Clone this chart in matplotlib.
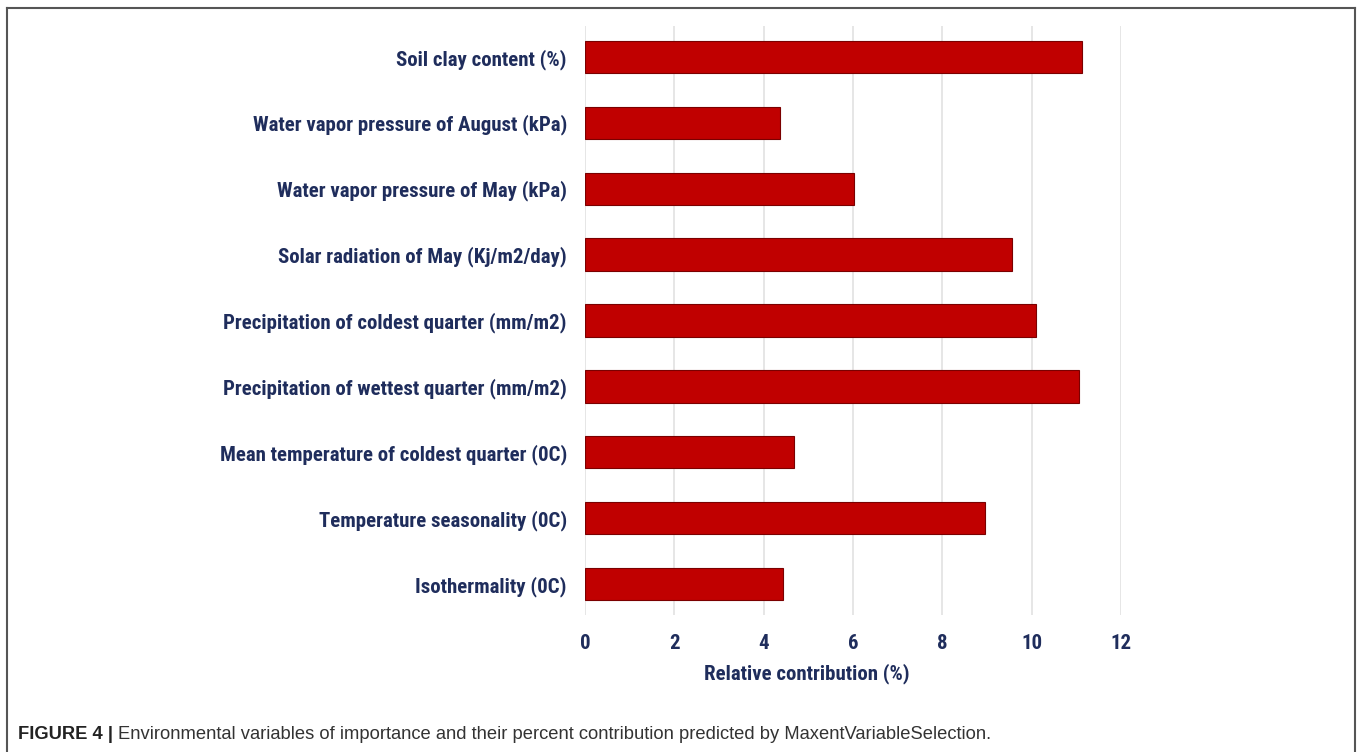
import numpy as np
import matplotlib
matplotlib.use("Agg")
import matplotlib.pyplot as plt
from matplotlib import font_manager
from matplotlib.lines import Line2D

# Data (top to bottom)
variables = [
    "Soil clay content (%)",
    "Water vapor pressure of August (kPa)",
    "Water vapor pressure of May (kPa)",
    "Solar radiation of May (Kj/m2/day)",
    "Precipitation of coldest quarter (mm/m2)",
    "Precipitation of wettest quarter (mm/m2)",
    "Mean temperature of coldest quarter (0C)",
    "Temperature seasonality (0C)",
    "Isothermality (0C)",
]
contribution = [11.13, 4.37, 6.02, 9.55, 10.10, 11.06, 4.67, 8.95, 4.43]
x_ticks = [0, 2, 4, 6, 8, 10, 12]
caption_bold = "FIGURE 4 |"
caption_text = ("Environmental variables of importance and their percent "
                "contribution predicted by MaxentVariableSelection.")


def pick_font(names):
    for name in names:
        try:
            font_manager.findfont(name, fallback_to_default=False)
            return name
        except ValueError:
            continue
    return "DejaVu Sans"


narrow = pick_font(["Liberation Sans Narrow", "Roboto Condensed", "Liberation Sans"])
plain = pick_font(["Liberation Sans", "Arial", "DejaVu Sans"])

NAVY = "#1f2d5c"
BAR = "#c00000"

W, H = 1357, 752
fig = plt.figure(figsize=(W / 100, H / 100), dpi=100)
fig.patch.set_facecolor("white")

# plot area in pixel terms of the reference
left, right, top, bottom = 585, 1121, 26, 615
ax = fig.add_axes([left / W, 1 - bottom / H, (right - left) / W, (bottom - top) / H])

y = np.arange(len(variables))
ax.barh(y, contribution, height=0.49, color=BAR, edgecolor="#7a0000",
        linewidth=0.8, zorder=3)

ax.set_xlim(0, 12)
ax.set_ylim(len(variables) - 0.53, -0.47)
ax.set_xticks(x_ticks)
ax.set_xticklabels([str(t) for t in x_ticks])
ax.set_yticks(y)
ax.set_yticklabels(variables)

for s in ax.spines.values():
    s.set_visible(False)
ax.grid(axis="x", color="#e2e2e2", linewidth=1.2, zorder=0)
ax.tick_params(axis="both", length=0)
ax.tick_params(axis="y", pad=13)
ax.tick_params(axis="x", pad=14)
for lab in ax.get_yticklabels() + ax.get_xticklabels():
    lab.set_fontfamily(narrow)
    lab.set_fontweight("bold")
    lab.set_fontsize(15)
    lab.set_color(NAVY)

fig.text(807 / W, 1 - 674 / H, "Relative contribution (%)", ha="center", va="center",
         fontsize=15, fontweight="bold", color=NAVY, family=narrow)

# caption under the chart
t1 = fig.text(18 / W, 1 - 739 / H, caption_bold, ha="left", va="baseline",
              fontsize=13.2, fontweight="bold", color="#222222", family=plain)
fig.canvas.draw()
bb = t1.get_window_extent()
fig.text((bb.x1 + 5) / W, 1 - 739 / H, caption_text, ha="left", va="baseline",
         fontsize=13.2, color="#333333", family=plain)

# frame around the figure panel (open at the bottom)
frame = dict(color="#555555", linewidth=1.5, transform=fig.transFigure)
fig.add_artist(Line2D([7 / W, 7 / W], [0, 1 - 8 / H], **frame))
fig.add_artist(Line2D([7 / W, 1355 / W], [1 - 8 / H, 1 - 8 / H], **frame))
fig.add_artist(Line2D([1355 / W, 1355 / W], [0, 1 - 8 / H], **frame))

fig.savefig("out.png", dpi=100)
